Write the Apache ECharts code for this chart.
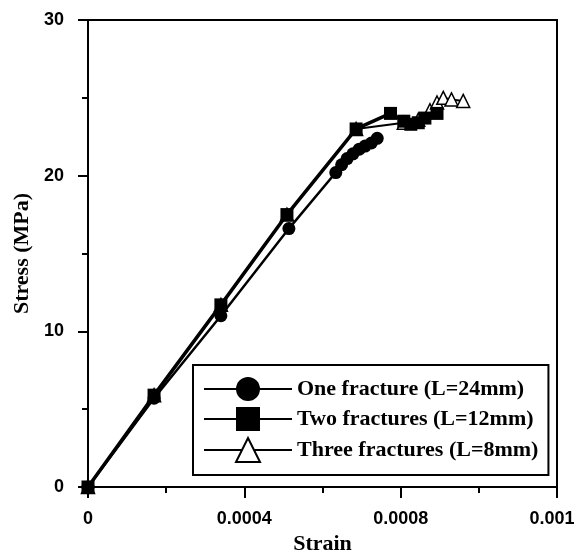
<!DOCTYPE html>
<html>
<head>
<meta charset="utf-8">
<script src="https://cdn.jsdelivr.net/npm/echarts@6/dist/echarts.min.js"></script>
<style>
  html, body { margin: 0; padding: 0; background: #fff; }
  #chart { width: 574px; height: 557px; }
</style>
</head>
<body>
<div id="chart"></div>
<script>
const seriesNames = [
  'One fracture (L=24mm)',
  'Two fractures (L=12mm)',
  'Three fractures (L=8mm)',
]

// [strain, stress MPa]
const oneFracture = [
  [0, 0], [0.000169, 5.7], [0.00034, 11.0], [0.000514, 16.6],
  [0.000634, 20.2], [0.000649, 20.7], [0.000663, 21.1], [0.000678, 21.4],
  [0.000694, 21.7], [0.000709, 21.9], [0.000725, 22.1], [0.00074, 22.4],
]
const twoFractures = [
  [0, 0], [0.000169, 5.9], [0.00034, 11.7], [0.000509, 17.5],
  [0.000686, 23.0], [0.000774, 24.0], [0.000808, 23.5], [0.000826, 23.3],
  [0.000845, 23.4], [0.000862, 23.7], [0.000893, 24.0],
]
const threeFractures = [
  [0, 0], [0.000169, 5.9], [0.00034, 11.7], [0.000509, 17.5],
  [0.000686, 23.0], [0.000808, 23.4], [0.000845, 23.6], [0.000875, 24.2],
  [0.000893, 24.7], [0.000909, 25.0], [0.00093, 24.9], [0.00096, 24.8],
]

const tickFont = {
  fontFamily: 'Liberation Sans',
  fontWeight: 'bold',
  fontSize: 18,
  color: '#000',
}
const nameFont = {
  fontFamily: 'Liberation Serif',
  fontWeight: 'bold',
  fontSize: 22,
  color: '#000',
}

const chart = echarts.init(document.getElementById('chart'), null, {
  width: 574,
  height: 557,
})

const option = {
  animation: false,
  backgroundColor: '#fff',
  grid: {
    left: 88,
    right: 17,
    top: 20,
    bottom: 70,
    outerBoundsMode: 'none',
    containLabel: false,
    show: true,
    borderColor: '#000',
    borderWidth: 2,
  },
  legend: {
    orient: 'vertical',
    left: 193,
    top: 365,
    padding: [12, 10, 12, 10],
    itemWidth: 88,
    itemHeight: 30,
    itemGap: 6,
    borderColor: '#000',
    borderWidth: 2,
    textStyle: nameFont,
    data: seriesNames,
  },
  xAxis: {
    type: 'value',
    min: 0,
    max: 0.0012,
    interval: 0.0004,
    name: 'Strain',
    nameLocation: 'middle',
    nameGap: 41,
    nameTextStyle: nameFont,
    axisLine: { lineStyle: { color: '#000', width: 2 } },
    axisTick: { inside: false, length: 11, lineStyle: { width: 2 } },
    minorTick: { show: true, splitNumber: 2, length: 6, lineStyle: { color: '#000', width: 2 } },
    splitLine: { show: false },
    axisLabel: Object.assign({}, tickFont, {
      margin: 23,
      formatter: (v) => (v === 0 ? '0' : v.toFixed(4)),
    }),
  },
  yAxis: {
    type: 'value',
    min: 0,
    max: 30,
    interval: 10,
    name: 'Stress (MPa)',
    nameLocation: 'middle',
    nameGap: 55,
    nameTextStyle: nameFont,
    axisLine: { lineStyle: { color: '#000', width: 2 } },
    axisTick: { inside: false, length: 10, lineStyle: { width: 2 } },
    minorTick: { show: true, splitNumber: 2, length: 6, lineStyle: { color: '#000', width: 2 } },
    splitLine: { show: false },
    axisLabel: Object.assign({}, tickFont, { margin: 24 }),
  },
  series: [
    {
      name: seriesNames[2],
      type: 'line',
      z: 1,
      data: threeFractures,
      symbol: 'triangle',
      symbolSize: 13,
      lineStyle: { color: '#000', width: 2 },
      itemStyle: { color: '#fff', borderColor: '#000', borderWidth: 1.5 },
    },
    {
      name: seriesNames[0],
      type: 'line',
      z: 2,
      data: oneFracture,
      symbol: 'circle',
      symbolSize: 13,
      lineStyle: { color: '#000', width: 2.5 },
      itemStyle: { color: '#000' },
    },
    {
      name: seriesNames[1],
      type: 'line',
      z: 3,
      data: twoFractures,
      symbol: 'rect',
      symbolSize: 13,
      lineStyle: { color: '#000', width: 3.5 },
      itemStyle: { color: '#000' },
    },
  ],
}

option && chart.setOption(option)
</script>
</body>
</html>
